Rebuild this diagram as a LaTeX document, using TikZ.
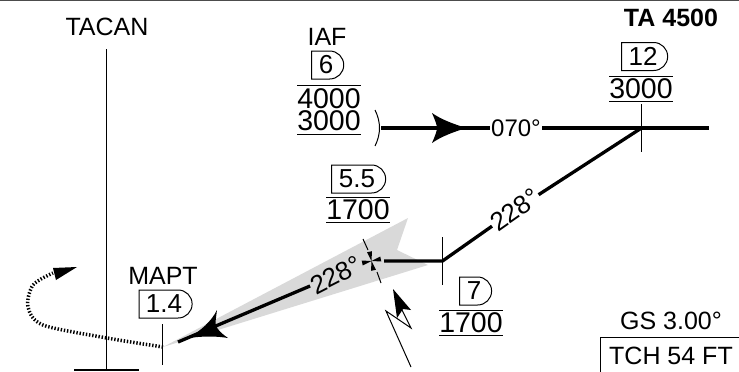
\documentclass[tikz,border=0pt]{standalone}
\usepackage{fontspec}
\setmainfont{Liberation Sans}
\usetikzlibrary{positioning, calc, arrows.meta, shapes.misc}
\tikzset{
  txt/.style={inner sep=0pt,font=\fontsize{25}{25}\selectfont},
  alt/.style={inner sep=0pt,font=\fontsize{28.5}{28.5}\selectfont},
  course/.style={inner sep=1pt,font=\fontsize{26}{26}\selectfont},
  dist/.style={draw,line width=1pt,rounded rectangle,rounded rectangle west arc=none,inner sep=0pt,
    minimum height=28pt,font=\fontsize{26}{26}\selectfont},
  track/.style={line width=3.5pt},
  leg/.style={line width=3.3pt},
  thin line/.style={line width=1pt},
  bar/.style={line width=1.3pt,gray!60!black},
}
\begin{document}
\begin{tikzpicture}[x=1pt,y=-1pt]
  \useasboundingbox (0,0) rectangle (739,372);
  % points on the track
  \coordinate (feeder) at (381,128);
  \coordinate (iaf) at (641.5,128);
  \coordinate (feederend) at (709,128);
  \coordinate (turn) at (442.5,261);
  \coordinate (faf) at (371.5,261);
  \coordinate (mapt) at (163,347);
  % descent wedge
  \fill[black!15] (mapt) -- (408,218) -- (397,250) -- (428,265) -- cycle;
  \draw[bar] (0,0.5) -- (739,0.5);
  % left column
  \node[txt] (tacan) at (107,27) {TACAN};
  \coordinate (tacantop) at (106.5,49);
  \coordinate (tacanfoot) at (106.5,370);
  \draw[thin line] (tacantop) -- (tacanfoot);
  \draw[line width=2.5pt] (74,370) -- (139,370);
  \node[txt] (maptlabel) at (163,276) {MAPT};
  \node[dist,minimum width=53pt] (d14) at (164,304) {1.4};
  \draw[thin line] (162.5,324) -- (162.5,365);
  % IAF block
  \node[txt] (iaflabel) at (327,37) {IAF};
  \node[dist,minimum width=32pt] (d6) at (326,65) {6};
  \node[alt] (a4000) at (329,99) {4000};
  \node[alt] (a3000) at (329,121) {3000};
  \draw[thin line] (297,85.5) -- (361,85.5) (297,134.5) -- (361,134.5);
  \draw[thin line] (375,110) .. controls (381,122) and (381,134) .. (375,146);
  % 12 block
  \node[font=\bfseries\fontsize{25}{25}\selectfont,inner sep=0pt] (ta) at (671,18) {TA 4500};
  \node[dist,minimum width=46pt] (d12) at (643,56.5) {12};
  \node[alt] (a12) at (641,89) {3000};
  \draw[thin line] (609,76.5) -- (673,76.5) (609,101.5) -- (673,101.5);
  \draw[thin line] (iaf |- 0,104) -- (iaf |- 0,152);
  % 5.5 block
  \node[dist,minimum width=54pt] (d55) at (357,179) {5.5};
  \node[alt] (a55) at (358,210) {1700};
  \draw[thin line] (326,197.5) -- (390,197.5) (326,222.5) -- (390,222.5);
  % 7 block
  \node[dist,minimum width=32pt] (d7) at (474,291) {7};
  \node[alt] (a7) at (471,323) {1700};
  \draw[thin line] (439,310.5) -- (503,310.5) (439,335.5) -- (503,335.5);
  % track
  \node[course,font=\fontsize{24}{24}\selectfont] (c070) at (516,128) {070°};
  \node[course,rotate=35] (c228) at (515,210) {228°};
  \node[course,rotate=27] (f228) at (336,275) {228°};
  \draw[track] (feeder) -- (c070);
  \draw[track] (c070) -- (feederend);
  \draw[leg] (iaf) -- (c228);
  \draw[leg] (c228) -- (turn) -- (384,261);
  \draw[thin line] (turn |- 0,237) -- (turn |- 0,285);
  \draw[leg] (f228) -- (178,342);
  \fill (466,128) .. controls (454,124) and (442,120) .. (432,113)
    .. controls (435,120) and (437,125) .. (437,128)
    .. controls (437,131) and (435,136) .. (432,143)
    .. controls (442,136) and (454,132) .. (466,128) -- cycle;
  \fill (189,338) .. controls (201,330) and (211,322) .. (217,310)
    .. controls (216,318) and (215,323) .. (216,326)
    .. controls (218,330) and (222,334) .. (228,338)
    .. controls (216,336) and (203,336) .. (189,338) -- cycle;
  % fix
  \draw[thin line] (363,239) -- (368,250) (377,272) -- (381,283);
  \begin{scope}[shift={(faf)},rotate=12]
    \foreach \a in {0,90,180,270}
      \fill[rotate=\a] (0,0) -- (9.5,-2.5) -- (9.5,2.5) -- cycle;
  \end{scope}
  % missed approach
  \draw[line width=3.5pt,dash pattern=on 1.4pt off 1.8pt] plot[smooth] coordinates
    {(mapt) (107,338) (43,325) (28,307) (33,285) (53,273)};
  \fill (77,267) -- (53,268) -- (56,280) -- cycle;
  % lightning
  \draw[thin line] (411,367) -- (386,311) -- (411,328) -- (402,310);
  \fill (393,289) -- (411,310) -- (403,309) -- (397,318) -- cycle;
  % glide slope
  \node[txt] (gs) at (671,321) {GS 3.00°};
  \node[txt] (tch) at (671,356) {TCH 54 FT};
  \draw[thin line] (600.5,372) -- (600.5,337.5) -- (739,337.5);
\end{tikzpicture}
\end{document}
